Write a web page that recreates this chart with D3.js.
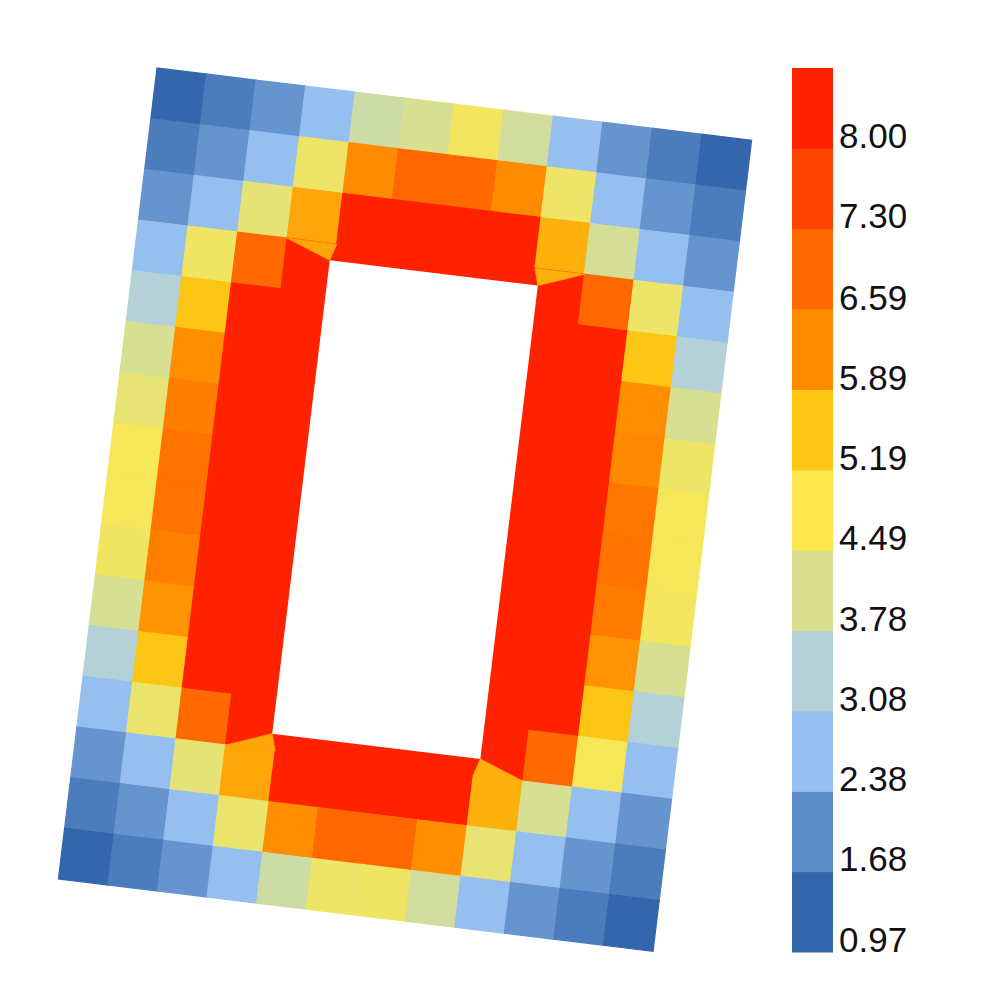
<!DOCTYPE html>
<html>
<head>
<meta charset="utf-8">
<script src="https://d3js.org/d3.v7.min.js"></script>
<style>
  body { margin: 0; background: #fff; }
</style>
</head>
<body>
<script>
  // value of the saturated red band around the hole
  const R = 8.35;

  // cell values, row by row (top to bottom), null = inside the hole
  const gridValues = [
    [1.30, 1.75, 2.15, 2.75, 3.92, 4.12, 4.65, 4.00, 2.75, 2.15, 1.75, 1.30],
    [1.75, 2.15, 2.75, 4.55, 6.24, 7.00, 6.95, 6.24, 4.55, 2.75, 2.15, 1.75],
    [2.15, 2.75, 4.40, 5.93, R, R, R, R, 5.80, 4.05, 2.75, 2.15],
    [2.75, 4.60, 6.95, R, R, R, R, R, R, 7.00, 4.55, 2.75],
    [3.43, 5.54, R, R, null, null, null, null, R, R, 5.54, 3.43],
    [4.10, 6.20, R, R, null, null, null, null, R, R, 6.20, 4.10],
    [4.42, 6.53, R, R, null, null, null, null, R, R, 6.30, 4.55],
    [4.70, 6.75, R, R, null, null, null, null, R, R, 6.70, 4.70],
    [4.70, 6.75, R, R, null, null, null, null, R, R, 6.75, 4.70],
    [4.60, 6.50, R, R, null, null, null, null, R, R, 6.60, 4.65],
    [4.10, 6.15, R, R, null, null, null, null, R, R, 6.15, 4.10],
    [3.43, 5.54, R, R, null, null, null, null, R, R, 5.54, 3.43],
    [2.75, 4.50, 6.95, R, R, R, R, R, R, 6.95, 4.70, 2.75],
    [2.15, 2.75, 4.40, 5.93, R, R, R, R, 5.80, 4.10, 2.75, 2.15],
    [1.75, 2.15, 2.75, 4.50, 6.20, 7.00, 7.00, 6.20, 4.45, 2.75, 2.15, 1.75],
    [1.30, 1.75, 2.15, 2.75, 3.92, 4.55, 4.60, 4.00, 2.75, 2.15, 1.75, 1.30]
  ];

  // hole bounds in cell units
  const holeCols = [3.9, 8.1];
  const holeRows = [3.33, 12.67];

  const tickLabels = ['0.97', '1.68', '2.38', '3.08', '3.78', '4.49', '5.19', '5.89', '6.59', '7.30', '8.00'];
  const bandColors = ['#3366ac', '#5b8bc7', '#94bff0', '#b3d1d7', '#d8e08f', '#fde74c',
                      '#fdc514', '#ff8c00', '#ff6a00', '#ff4400', '#ff2200'];

  const svg = d3.select('body').append('svg').attr('width', 993).attr('height', 1005);

  const nRows = gridValues.length, nCols = gridValues[0].length;
  const x = d3.scaleLinear().domain([0, nCols]).range([0, 599]);
  const y = d3.scaleLinear().domain([0, nRows]).range([0, 817]);

  const ticks = tickLabels.map(Number);
  const step = (ticks[ticks.length - 1] - ticks[0]) / (ticks.length - 1);
  const centers = ticks.map(t => t + step / 2);
  const color = d3.scaleLinear().domain(centers).range(bandColors).clamp(true);

  // rotated mesh
  const plot = svg.append('g').attr('transform', 'translate(157,68) rotate(6.93)');

  let cells = [];
  gridValues.forEach((row, r) => row.forEach((v, c) => {
    if (v !== null) cells.push({ c: c, r: r, v: v });
  }));

  plot.selectAll('.cell')
    .data(cells)
    .enter()
    .append('rect')
      .attr('class', 'cell')
      .attr('x', d => x(d.c))
      .attr('y', d => y(d.r))
      .attr('width', x(1) - x(0))
      .attr('height', y(1) - y(0))
      .attr('fill', d => color(d.v))
      .attr('stroke', d => color(d.v))
      .attr('stroke-width', 1.2);

  // hole
  plot.append('rect')
    .attr('x', x(holeCols[0]))
    .attr('y', y(holeRows[0]))
    .attr('width', x(holeCols[1]) - x(holeCols[0]))
    .attr('height', y(holeRows[1]) - y(holeRows[0]))
    .attr('fill', '#fff');

  // chamfer wedges at hole corners, coloured like the ring cell next to them
  let wedges = [];
  holeRows.forEach((hv, i) => holeCols.forEach(hu => {
    let c = Math.floor(hu);
    let r = i === 0 ? Math.floor(hv) - 1 : Math.ceil(hv);
    let edge = i === 0 ? r + 1 : r;
    wedges.push({ v: gridValues[r][c], pts: [[c, edge], [c + 1, edge], [hu, hv]] });
  }));

  plot.selectAll('.wedge')
    .data(wedges)
    .enter()
    .append('path')
      .attr('class', 'wedge')
      .attr('d', d => 'M' + d.pts.map(p => x(p[0]) + ',' + y(p[1])).join('L') + 'Z')
      .attr('fill', d => color(d.v))
      .attr('stroke', d => color(d.v))
      .attr('stroke-width', 0.7);

  // colour bar
  const cb = d3.scaleLinear().domain([ticks[0], ticks[ticks.length - 1] + step]).range([952, 68]);

  svg.selectAll('.band')
    .data(bandColors)
    .enter()
    .append('rect')
      .attr('class', 'band')
      .attr('x', 792)
      .attr('width', 41)
      .attr('y', (d, i) => cb(ticks[0] + (i + 1) * step))
      .attr('height', (d, i) => cb(ticks[0] + i * step) - cb(ticks[0] + (i + 1) * step) + 0.5)
      .attr('fill', d => d);

  svg.selectAll('.lbl')
    .data(tickLabels)
    .enter()
    .append('text')
      .attr('class', 'lbl')
      .attr('x', 839)
      .attr('y', d => cb(+d))
      .text(d => d)
      .style('font-family', 'Arial, "Liberation Sans", sans-serif')
      .style('font-size', '35px')
      .style('fill', '#111');
</script>
</body>
</html>
